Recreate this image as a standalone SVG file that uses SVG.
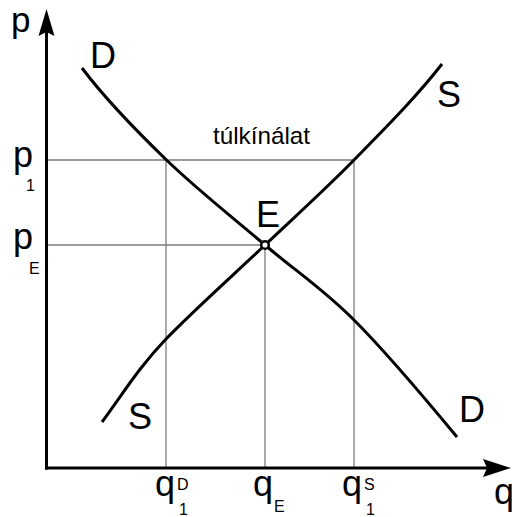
<svg xmlns="http://www.w3.org/2000/svg" width="512" height="517" viewBox="0 0 512 517">
<style>
text{font-family:"Liberation Sans",Arial,sans-serif;fill:#000}
.big{font-size:36px}
.sub{font-size:16px}
.mid{font-size:24px}
.grid{stroke:#7a7a7a;stroke-width:1.3;fill:none}
.axis{stroke:#000;stroke-width:3;fill:none}
.curve{stroke:#000;stroke-width:3;fill:none}
</style>
<rect width="512" height="517" fill="#fff"/>
<g id="gridlines">
<line class="grid" x1="46" y1="160" x2="354" y2="160"/>
<line class="grid" x1="46" y1="245" x2="265" y2="245"/>
<line class="grid" x1="166" y1="160" x2="166" y2="468"/>
<line class="grid" x1="265" y1="245" x2="265" y2="468"/>
<line class="grid" x1="354" y1="160" x2="354" y2="468"/>
</g>
<g id="axes">
<line class="axis" x1="46.5" y1="469.5" x2="46.5" y2="30"/>
<line class="axis" x1="45" y1="468" x2="490" y2="468"/>
<polygon points="46.5,9 38.5,36 46.5,32 54.5,36" fill="#000"/>
<polygon points="511,468 483,459 487,468 483,477" fill="#000"/>
</g>
<g id="curve-D">
<path class="curve" d="M82,68 C107,101.3 136,130.5 166.5,160 C197,189.5 233.75,218.3 265,245 C296.25,271.67 322,288 354,320 C386,352 425.3,398.7 457,437"/>
</g>
<g id="curve-S">
<path class="curve" d="M102,422 C124,392 140,366 166,339 C194,310 233.7,274.7 265,245 C296.3,215.3 324.5,190.2 354,160 C383.5,129.8 415.3,98.3 442,64"/>
</g>
<g id="point-E">
<circle cx="265" cy="245" r="3.8" fill="#fff" stroke="#000" stroke-width="2.5"/>
<text class="big" x="256" y="227">E</text>
</g>
<g id="labels">
<text class="big" x="11" y="32" style="font-size:35px">p</text>
<text class="big" x="90" y="68">D</text>
<text class="big" x="437" y="107">S</text>
<text class="big" x="128" y="429">S</text>
<text class="big" x="459" y="422">D</text>
<text class="mid" x="213" y="144" textLength="97" lengthAdjust="spacingAndGlyphs">túlkínálat</text>
<text class="big" x="13" y="167">p</text>
<text class="sub" x="26" y="191">1</text>
<text class="big" x="13" y="249">p</text>
<text class="sub" x="29" y="274">E</text>
<text class="big" x="155" y="496">q</text>
<text class="sub" x="177" y="490">D</text>
<text class="sub" x="179" y="515">1</text>
<text class="big" x="253" y="496">q</text>
<text class="sub" x="274" y="512">E</text>
<text class="big" x="342" y="496">q</text>
<text class="sub" x="364" y="490">S</text>
<text class="sub" x="366" y="515">1</text>
<text class="big" x="494" y="504">q</text>
</g>
</svg>
